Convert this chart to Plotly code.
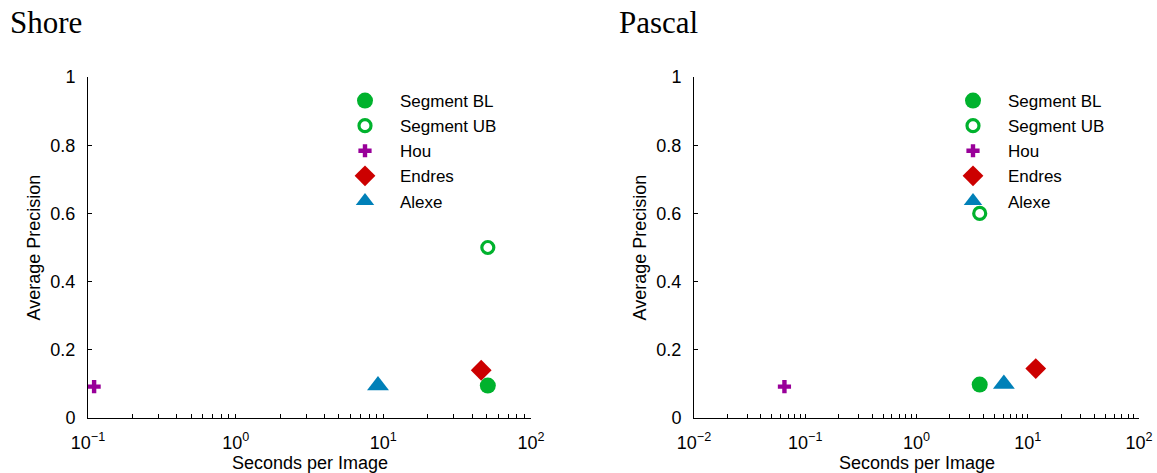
import plotly.graph_objects as go

# Methods compared on each dataset
methods = ["Segment BL", "Segment UB", "Hou", "Endres", "Alexe"]

# Shore dataset: runtime (s/image) and average precision
shore_time = [51, 51, 0.11, 46, 9.2]
shore_ap = [0.095, 0.50, 0.092, 0.14, 0.095]

# Pascal dataset: runtime (s/image) and average precision
pascal_time = [3.7, 3.7, 0.065, 11.8, 6.1]
pascal_ap = [0.098, 0.60, 0.092, 0.145, 0.10]

titles = ["Shore", "Pascal"]
yticks = [0, 0.2, 0.4, 0.6, 0.8, 1]
ytick_text = ["0", "0.2", "0.4", "0.6", "0.8", "1"]

colors = {
    "Segment BL": "#00B22D",
    "Segment UB": "#00B22D",
    "Hou": "#990099",
    "Endres": "#CC0000",
    "Alexe": "#0080B8",
}
symbols = {
    "Segment BL": "circle",
    "Segment UB": "circle-open",
    "Hou": "cross",
    "Endres": "diamond",
    "Alexe": "triangle-up",
}
sizes = {
    "Segment BL": 16,
    "Segment UB": 12,
    "Hou": 11,
    "Endres": 16,
    "Alexe": 19,
}
# drawing order (last on top); legend order follows `methods`
draw_order = ["Endres", "Alexe", "Hou", "Segment UB", "Segment BL"]

W, H = 1157, 473
# plot areas in pixels: (left, right)
x_px = [(88, 531), (694, 1139)]
y_top, y_bot = 77, 418
decades = [(-1, 2), (-2, 2)]
legend_left = [330, 938]

fig = go.Figure()
font_sans = "Liberation Sans, Arial, sans-serif"
FS = 18

for i, (times, aps) in enumerate([(shore_time, shore_ap), (pascal_time, pascal_ap)]):
    xa = "x" if i == 0 else "x2"
    ya = "y" if i == 0 else "y2"
    leg = "legend" if i == 0 else "legend2"
    for m in draw_order:
        j = methods.index(m)
        line_w = 3.2 if m == "Segment UB" else 0
        fig.add_trace(go.Scatter(
            x=[times[j]], y=[aps[j]], mode="markers", name=m, xaxis=xa, yaxis=ya,
            legend=leg, legendrank=j + 1,
            marker=dict(symbol=symbols[m], size=sizes[m], color=colors[m],
                        line=dict(width=line_w, color=colors[m])),
            cliponaxis=False,
        ))

    lo, hi = decades[i]
    tickvals, ticktext = [], []
    for d in range(lo, hi + 1):
        for k in range(1, 10):
            if d == hi and k > 1:
                break
            tickvals.append(k * 10 ** d)
            ticktext.append(f"10<sup>{d if d >= 0 else '−' + str(-d)}</sup>" if k == 1 else "")
    x0, x1 = x_px[i]
    dom_x = [x0 / W, x1 / W]
    dom_y = [(H - y_bot) / H, (H - y_top) / H]
    axis_common = dict(showline=True, linecolor="black", linewidth=1, ticks="inside",
                       tickcolor="black", ticklen=4, showgrid=False, zeroline=False,
                       automargin=False,
                       tickfont=dict(family=font_sans, size=FS, color="black"))
    fig.update_layout(**{
        ("xaxis" if i == 0 else "xaxis2"): dict(
            type="log", range=[lo, hi], domain=dom_x, anchor=ya, ticklabelstandoff=8,
            tickvals=tickvals, ticktext=ticktext, **axis_common),
        ("yaxis" if i == 0 else "yaxis2"): dict(
            range=[0, 1], domain=dom_y, anchor=xa, ticklabelstandoff=8,
            tickvals=yticks, ticktext=ytick_text, **axis_common),
        leg: dict(x=legend_left[i] / W, y=(H - 83) / H,
                  xanchor="left", yanchor="top", bgcolor="rgba(0,0,0,0)",
                  font=dict(family=font_sans, size=17, color="black"),
                  tracegroupgap=0, itemwidth=60),
    })
    # subplot title
    fig.add_annotation(text=titles[i], xref="paper", yref="paper",
                       x=(8 if i == 0 else 617) / W, y=(H - 23) / H,
                       xanchor="left", yanchor="middle", showarrow=False,
                       font=dict(family="Liberation Serif, Times New Roman, serif", size=31, color="black"))
    # axis titles
    fig.add_annotation(text="Seconds per Image", xref="paper", yref="paper",
                       x=((x0 + x1) / 2) / W, y=(H - 463) / H,
                       xanchor="center", yanchor="middle", showarrow=False,
                       font=dict(family=font_sans, size=FS, color="black"))
    fig.add_annotation(text="Average Precision", xref="paper", yref="paper",
                       x=(x0 - 55) / W, y=((H - (y_top + y_bot) / 2)) / H,
                       xanchor="center", yanchor="middle", showarrow=False, textangle=-90,
                       font=dict(family=font_sans, size=FS, color="black"))

fig.update_layout(width=W, height=H, margin=dict(l=0, r=0, t=0, b=0, autoexpand=False),
                  plot_bgcolor="white", paper_bgcolor="white", showlegend=True)

fig.write_html("out.html")
